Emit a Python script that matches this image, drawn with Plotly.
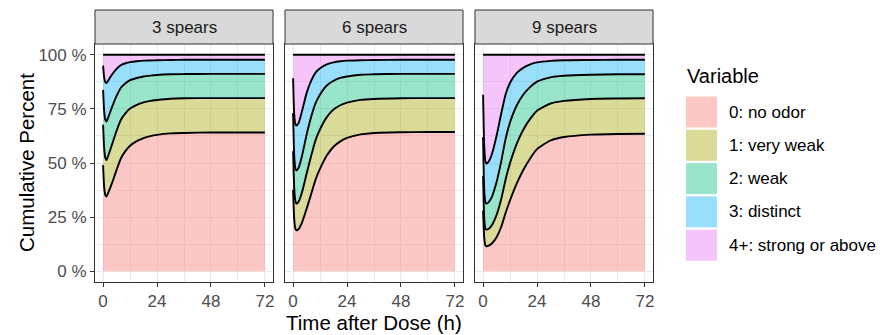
import plotly.graph_objects as go

# ---------------- data ----------------
T = [0, 0.5, 1, 1.5, 2.5, 4, 6, 8, 10, 12, 15, 18, 21, 24, 30, 36, 48, 60, 72]

panels = ["3 spears", "6 spears", "9 spears"]
levels = ["0: no odor", "1: very weak", "2: weak", "3: distinct", "4+: strong or above"]

# cumulative percent P(Y <= k) per panel
s3_c0 = [49.0, 38.5, 35.2, 34.5, 36.8, 40.8, 46.8, 52.3, 55.6, 58.0, 60.1, 61.5, 62.4, 63.0, 63.7, 63.9, 64.1, 64.1, 64.1]
s3_c1 = [67.7, 56.5, 52.3, 51.4, 54.0, 58.6, 64.9, 70.1, 73.1, 75.2, 76.9, 78.0, 78.7, 79.1, 79.7, 79.9, 80.0, 80.0, 80.0]
s3_c2 = [83.8, 73.6, 69.9, 69.2, 71.7, 75.9, 81.0, 84.9, 86.9, 88.3, 89.3, 90.0, 90.4, 90.7, 91.0, 91.1, 91.2, 91.2, 91.2]
s3_c3 = [95.0, 89.4, 87.3, 86.9, 88.5, 90.9, 93.5, 95.3, 96.1, 96.6, 97.0, 97.3, 97.4, 97.5, 97.6, 97.7, 97.7, 97.7, 97.7]

s6_c0 = [37.7, 24.0, 19.8, 18.9, 19.5, 22.6, 28.8, 35.5, 42.3, 47.4, 53.5, 57.5, 60.0, 61.6, 63.2, 63.9, 64.2, 64.3, 64.3]
s6_c1 = [55.4, 38.5, 32.4, 31.2, 32.2, 36.6, 45.0, 53.1, 60.6, 65.6, 71.2, 74.7, 76.7, 77.9, 79.2, 79.6, 79.9, 80.0, 80.0]
s6_c2 = [73.1, 53.4, 47.5, 46.6, 47.9, 53.4, 63.0, 71.2, 77.7, 81.7, 85.8, 88.0, 89.3, 90.0, 90.8, 91.0, 91.2, 91.2, 91.2]
s6_c3 = [89.2, 72.5, 68.0, 67.3, 68.6, 74.1, 82.3, 88.0, 91.8, 93.8, 95.6, 96.5, 97.0, 97.3, 97.5, 97.6, 97.7, 97.7, 97.7]

s9_c0 = [28.0, 15.5, 12.0, 11.5, 11.8, 12.9, 15.7, 20.3, 26.9, 32.8, 40.6, 47.0, 52.2, 56.4, 60.4, 62.0, 63.1, 63.4, 63.5]
s9_c1 = [44.0, 24.5, 19.7, 19.2, 19.6, 21.4, 26.0, 33.0, 42.3, 50.0, 59.0, 65.6, 70.5, 74.2, 77.5, 78.7, 79.6, 79.8, 79.9]
s9_c2 = [62.0, 37.5, 32.0, 31.2, 31.9, 34.6, 41.2, 50.4, 61.1, 68.8, 76.7, 81.8, 85.2, 87.6, 89.6, 90.3, 90.8, 91.0, 91.0]
s9_c3 = [81.5, 58.0, 51.0, 49.7, 50.7, 54.4, 62.6, 72.5, 81.7, 87.1, 91.7, 94.1, 95.6, 96.5, 97.2, 97.5, 97.6, 97.7, 97.7]

total = [100, 100, 100, 100, 100, 100, 100, 100, 100, 100, 100, 100, 100, 100, 100, 100, 100, 100, 100]

curves = [
    [s3_c0, s3_c1, s3_c2, s3_c3, total],
    [s6_c0, s6_c1, s6_c2, s6_c3, total],
    [s9_c0, s9_c1, s9_c2, s9_c3, total],
]

x_ticks = [0, 24, 48, 72]
y_ticks = [0, 25, 50, 75, 100]
y_ticktext = ["0 %", "25 %", "50 %", "75 %", "100 %"]

# ---------------- style ----------------
fills = ["rgba(248,118,109,0.4)", "rgba(163,165,0,0.4)", "rgba(0,191,125,0.4)",
         "rgba(0,176,246,0.4)", "rgba(231,107,243,0.4)"]
FONT = "Liberation Sans, Arial, sans-serif"
W, H = 880, 335
px_panels = [(95, 273), (285, 463), (475, 653)]
plot_top, plot_bot = 44, 282
strip_top = 10
GRID = "#EBEBEB"
DARK = "#333333"
TICK_SIZE = 17

fig = go.Figure()

for p in range(3):
    sfx = "" if p == 0 else str(p + 1)
    for k in range(5):
        fig.add_trace(go.Scatter(
            x=T, y=curves[p][k], mode="lines",
            line=dict(color="black", width=1.9, shape="spline", smoothing=0.6),
            fill="tozeroy" if k == 0 else "tonexty",
            fillcolor=fills[k],
            xaxis="x" + sfx, yaxis="y" + sfx,
            showlegend=False, hoverinfo="skip",
        ))

layout = dict(
    width=W, height=H, autosize=False,
    margin=dict(l=0, r=0, t=0, b=0),
    paper_bgcolor="white", plot_bgcolor="white",
    font=dict(family=FONT, size=TICK_SIZE, color="#4D4D4D"),
    showlegend=False,
)

ydom = [(H - plot_bot) / H, (H - plot_top) / H]
for p in range(3):
    sfx = "" if p == 0 else str(p + 1)
    x0, x1 = px_panels[p]
    layout["xaxis" + sfx] = dict(
        domain=[x0 / W, x1 / W], anchor="y" + sfx,
        range=[-3.6, 75.6], tickvals=x_ticks, ticktext=[str(v) for v in x_ticks],
        showgrid=True, gridcolor=GRID, gridwidth=1.1,
        minor=dict(dtick=12, tick0=0, showgrid=True, gridcolor=GRID, gridwidth=0.55, ticks=""),
        showline=True, mirror=True, linecolor=DARK, linewidth=1,
        ticks="outside", ticklen=4, tickwidth=1, tickcolor=DARK,
        tickfont=dict(size=TICK_SIZE, color="#4D4D4D", family=FONT),
        zeroline=False, fixedrange=True,
    )
    layout["yaxis" + sfx] = dict(
        domain=ydom, anchor="x" + sfx,
        range=[-5, 105], tickvals=y_ticks, ticktext=y_ticktext,
        showgrid=True, gridcolor=GRID, gridwidth=1.1,
        minor=dict(dtick=12.5, tick0=0, showgrid=True, gridcolor=GRID, gridwidth=0.55, ticks=""),
        showline=True, mirror=True, linecolor=DARK, linewidth=1,
        ticks="outside" if p == 0 else "", ticklen=4, tickwidth=1, tickcolor=DARK,
        showticklabels=(p == 0),
        tickfont=dict(size=TICK_SIZE, color="#4D4D4D", family=FONT),
        zeroline=False, fixedrange=True,
    )

shapes = []
annotations = []
for p in range(3):
    x0, x1 = px_panels[p]
    shapes.append(dict(type="rect", xref="paper", yref="paper",
                       x0=x0 / W, x1=x1 / W,
                       y0=(H - plot_top) / H, y1=(H - strip_top) / H,
                       fillcolor="#D9D9D9", line=dict(color=DARK, width=1)))
    annotations.append(dict(text=panels[p], xref="paper", yref="paper",
                            x=(x0 + x1) / 2 / W, y=(H - (plot_top + strip_top) / 2) / H,
                            xanchor="center", yanchor="middle", showarrow=False,
                            font=dict(size=17, color="#1A1A1A", family=FONT)))

# axis titles
annotations.append(dict(text="Time after Dose (h)", xref="paper", yref="paper",
                        x=374 / W, y=(H - 322) / H, xanchor="center", yanchor="middle",
                        showarrow=False, font=dict(size=20.5, color="black", family=FONT)))
annotations.append(dict(text="Cumulative Percent", xref="paper", yref="paper",
                        x=26 / W, y=(H - 163) / H, xanchor="center", yanchor="middle",
                        textangle=-90, showarrow=False,
                        font=dict(size=20.5, color="black", family=FONT)))

# legend (drawn manually)
annotations.append(dict(text="Variable", xref="paper", yref="paper",
                        x=685 / W, y=(H - 76) / H, xanchor="left", yanchor="middle",
                        showarrow=False, font=dict(size=20, color="black", family=FONT)))
for k in range(5):
    ky0 = 96.5 + 33.3 * k
    ky1 = ky0 + 31
    shapes.append(dict(type="rect", xref="paper", yref="paper",
                       x0=686 / W, x1=717 / W, y0=(H - ky1) / H, y1=(H - ky0) / H,
                       fillcolor=fills[k], line=dict(width=0)))
    annotations.append(dict(text=levels[k], xref="paper", yref="paper",
                            x=727 / W, y=(H - (ky0 + ky1) / 2) / H,
                            xanchor="left", yanchor="middle", showarrow=False,
                            font=dict(size=17, color="black", family=FONT)))

layout["shapes"] = shapes
layout["annotations"] = annotations
fig.update_layout(**layout)
fig.write_html("out.html")
